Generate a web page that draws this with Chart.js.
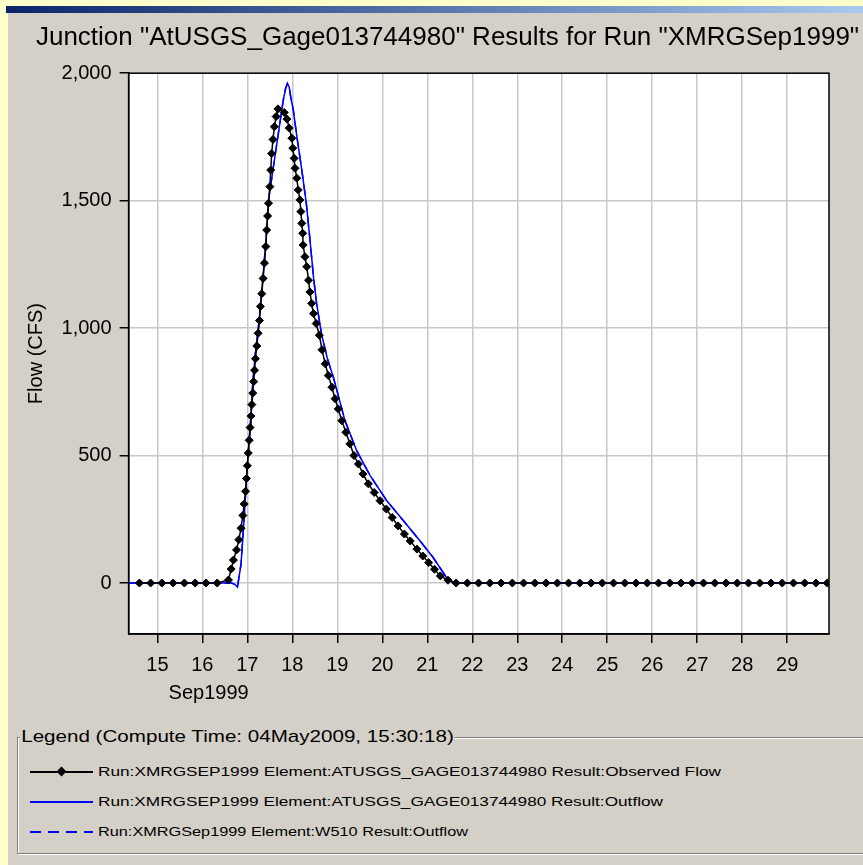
<!DOCTYPE html>
<html>
<head>
<meta charset="utf-8">
<script src="https://cdn.jsdelivr.net/npm/chart.js@4.4.1/dist/chart.umd.min.js"></script>
<style>
html,body{margin:0;padding:0;width:863px;height:865px;overflow:hidden;background:#ffffcc;font-family:"Liberation Sans",Arial,sans-serif}
#bar{position:absolute;left:6px;top:6px;width:857px;height:7px;background:linear-gradient(to right,#0a246a,#a6caf0)}
#panel{position:absolute;left:8px;top:13px;width:855px;height:852px;background:#d4d0c8}
#chart{position:absolute;left:0;top:0}
#legend{position:absolute;left:17px;top:737px;width:880px;height:115px;border:1px solid #808080;box-shadow:inset 1px 1px 0 #fff,1px 1px 0 #fff}
#legend .ttl{position:absolute;left:2px;top:-11px;background:#d4d0c8;font-size:17px;line-height:20px;padding:0 1px;white-space:nowrap}
.row{position:absolute;left:0;height:20px;white-space:nowrap}
.row .smp{position:absolute;left:12px;top:9px;width:63px;height:2px}
.row .txt{position:absolute;left:80px;top:0;font-size:13px;line-height:20px;transform-origin:left center}
.dia{position:absolute;left:28px;top:-3px;width:7px;height:7px;background:#000;transform:rotate(45deg)}
</style>
</head>
<body>
<div id="bar"></div>
<div id="panel"></div>
<canvas id="chart" width="895" height="720"></canvas>
<div id="legend">
  <div class="ttl" data-w="435">Legend (Compute Time: 04May2009, 15:30:18)</div>
  <div class="row" style="top:24px"><div class="smp" style="background:#000"><div class="dia"></div></div><div class="txt" data-w="623">Run:XMRGSEP1999 Element:ATUSGS_GAGE013744980 Result:Observed Flow</div></div>
  <div class="row" style="top:54px"><div class="smp" style="background:#0000ff"></div><div class="txt" data-w="565">Run:XMRGSEP1999 Element:ATUSGS_GAGE013744980 Result:Outflow</div></div>
  <div class="row" style="top:84px"><div class="smp" style="background:repeating-linear-gradient(to right,#0000ff 0 11px,transparent 11px 18px)"></div><div class="txt" data-w="370">Run:XMRGSep1999 Element:W510 Result:Outflow</div></div>
</div>
<script>
const dayTicks = [15,16,17,18,19,20,21,22,23,24,25,26,27,28,29];
const flowTicks = [0,500,1000,1500,2000];

// observed flow, one entry per marker seen on the plot (day of Sep 1999, cfs)
const obsTime = [
  14.6,14.85,15.1,15.35,15.6,15.84,16.08,16.33,
  16.58,16.64,16.69,16.76,16.81,16.86,16.9,16.93,16.96,16.98,
  17.0,17.02,17.04,17.06,17.08,17.1,17.12,17.14,17.16,17.18,
  17.21,17.24,17.27,17.29,17.32,17.35,17.38,17.41,17.43,17.45,
  17.47,17.5,17.52,17.54,17.57,17.6,17.64,17.68,
  17.82,17.88,17.93,17.99,18.01,18.04,18.06,18.1,18.13,18.17,
  18.19,18.21,18.23,18.24,18.28,18.32,18.36,18.39,18.43,18.47,
  18.53,18.6,18.66,18.73,18.8,18.88,18.95,19.02,19.1,19.19,
  19.28,19.37,19.47,19.57,19.69,19.82,19.95,20.09,20.22,20.35,
  20.49,20.62,20.77,20.9,21.03,21.16,21.29,21.46,21.64,
  21.89,22.14,22.39,22.64,22.89,23.14,23.39,23.64,23.89,24.14,24.39,
  24.64,24.89,25.14,25.39,25.64,25.89,26.14,26.39,26.64,26.89,27.14,
  27.39,27.64,27.89,28.14,28.39,28.64,28.89,29.14,29.39,29.64,29.89
];
const obsFlow = [
  0,0,0,0,0,0,0,0,
  12,55,90,130,170,215,265,310,360,410,
  460,510,560,610,655,700,745,790,835,880,
  930,980,1030,1085,1135,1195,1255,1320,1385,1440,
  1490,1555,1620,1685,1740,1790,1830,1860,
  1846,1820,1785,1745,1706,1666,1627,1588,1542,1503,
  1457,1411,1372,1326,1280,1241,1188,1142,1097,1057,
  1018,972,915,860,814,768,723,683,637,591,
  546,500,467,428,389,355,323,290,257,224,
  192,165,133,106,80,54,28,11,0,
  0,0,0,0,0,0,0,0,0,0,0,
  0,0,0,0,0,0,0,0,0,0,0,
  0,0,0,0,0,0,0,0,0,0,0
];

// computed outflow at the junction
const outTime = [14.36,16.65,16.72,16.78,16.86,16.93,16.99,17.06,17.12,17.18,17.24,17.3,17.36,17.42,17.47,17.58,17.69,17.8,17.85,17.89,17.93,17.97,18.02,18.1,18.21,18.31,18.39,18.47,18.54,18.65,18.78,18.91,19.17,19.43,19.73,20.1,20.47,20.84,21.13,21.43,21.54,21.6,29.93];
const outFlow = [0,0,-5,-16,75,257,440,600,785,905,995,1100,1230,1360,1500,1634,1765,1896,1940,1960,1945,1900,1857,1752,1621,1490,1350,1201,1096,975,880,808,637,519,421,323,244,165,100,21,5,0,0];

// W510 outflow lies exactly under the junction outflow
const w510Time = outTime;
const w510Flow = outFlow;

const pts = (t, v) => t.map((x, i) => ({x: x, y: v[i]}));
const FONT = '"Liberation Sans", Arial, sans-serif';

const frame = {
  id: 'frame',
  beforeDatasetsDraw(chart) {
    const {ctx, chartArea: a} = chart;
    ctx.save();
    ctx.globalCompositeOperation = 'destination-over';
    ctx.fillStyle = '#fff';
    ctx.fillRect(a.left, a.top, a.width, a.height);
    ctx.restore();
  },
  afterDraw(chart) {
    const {ctx, chartArea: a} = chart;
    ctx.save();
    ctx.strokeStyle = '#000';
    ctx.lineWidth = 1.5;
    ctx.strokeRect(a.left, a.top, a.width, a.height);
    ctx.fillStyle = '#000';
    ctx.font = '20px ' + FONT;
    ctx.textBaseline = 'middle';
    ctx.fillText('Sep1999', a.left + 40, 693);
    ctx.restore();
  }
};

const chart = new Chart(document.getElementById('chart'), {
  type: 'line',
  data: {
    datasets: [{
      label: 'Run:XMRGSEP1999 Element:ATUSGS_GAGE013744980 Result:Observed Flow',
      data: pts(obsTime, obsFlow),
      borderColor: '#000',
      borderWidth: 1.5,
      pointStyle: 'rectRot',
      pointRadius: 4,
      pointBackgroundColor: '#000',
      pointBorderColor: '#000',
      pointBorderWidth: 1,
      order: 1
    }, {
      label: 'Run:XMRGSEP1999 Element:ATUSGS_GAGE013744980 Result:Outflow',
      data: pts(outTime, outFlow),
      borderColor: '#0000ff',
      borderWidth: 1.5,
      pointRadius: 0,
      order: 2
    }, {
      label: 'Run:XMRGSep1999 Element:W510 Result:Outflow',
      data: pts(w510Time, w510Flow),
      borderColor: '#0000ff',
      borderWidth: 1.5,
      borderDash: [10, 6],
      pointRadius: 0,
      order: 3
    }]
  },
  options: {
    responsive: false,
    animation: false,
    devicePixelRatio: 1,
    layout: {padding: {left: 0, right: 0, top: 0, bottom: 36}},
    plugins: {
      legend: {display: false},
      tooltip: {enabled: false},
      title: {
        display: true,
        text: 'Junction "AtUSGS_Gage013744980" Results for Run "XMRGSep1999"',
        color: '#000',
        font: {family: FONT, size: 26, weight: 'normal'},
        padding: {top: 22, bottom: 20}
      }
    },
    scales: {
      x: {
        type: 'linear',
        min: 14.36,
        max: 29.93,
        afterBuildTicks: s => { s.ticks = dayTicks.map(v => ({value: v})); },
        afterFit: s => { s.height = 50; },
        ticks: {color: '#000', font: {family: FONT, size: 20}, padding: 10, maxRotation: 0, autoSkip: false},
        grid: {color: '#c8c8c8', lineWidth: 1.5, tickColor: '#000', tickLength: 9},
        border: {color: '#000', width: 1.5}
      },
      y: {
        min: -200,
        max: 2000,
        afterBuildTicks: s => { s.ticks = flowTicks.map(v => ({value: v})); },
        afterFit: s => { s.width = 128.6; },
        ticks: {color: '#000', font: {family: FONT, size: 20}, padding: 8,
          callback: v => v.toLocaleString('en-US')},
        grid: {color: '#c8c8c8', lineWidth: 1.5, tickColor: '#000', tickLength: 9},
        border: {color: '#000', width: 1.5},
        title: {display: true, text: 'Flow (CFS)', color: '#000', font: {family: FONT, size: 20}, padding: {top: 24, bottom: 0}}
      },
      // empty spacer on the right so the plot ends where the original does
      spacer: {
        type: 'linear',
        position: 'right',
        grid: {display: false},
        ticks: {display: false},
        border: {display: false},
        afterFit: s => { s.width = 66; }
      }
    }
  },
  plugins: [frame]
});

// stretch legend texts to the widths they have in the original
document.querySelectorAll('[data-w]').forEach(el => {
  const w = el.getBoundingClientRect().width;
  el.style.transformOrigin = 'left center';
  el.style.transform = 'scaleX(' + (el.dataset.w / w) + ')';
});
</script>
</body>
</html>
